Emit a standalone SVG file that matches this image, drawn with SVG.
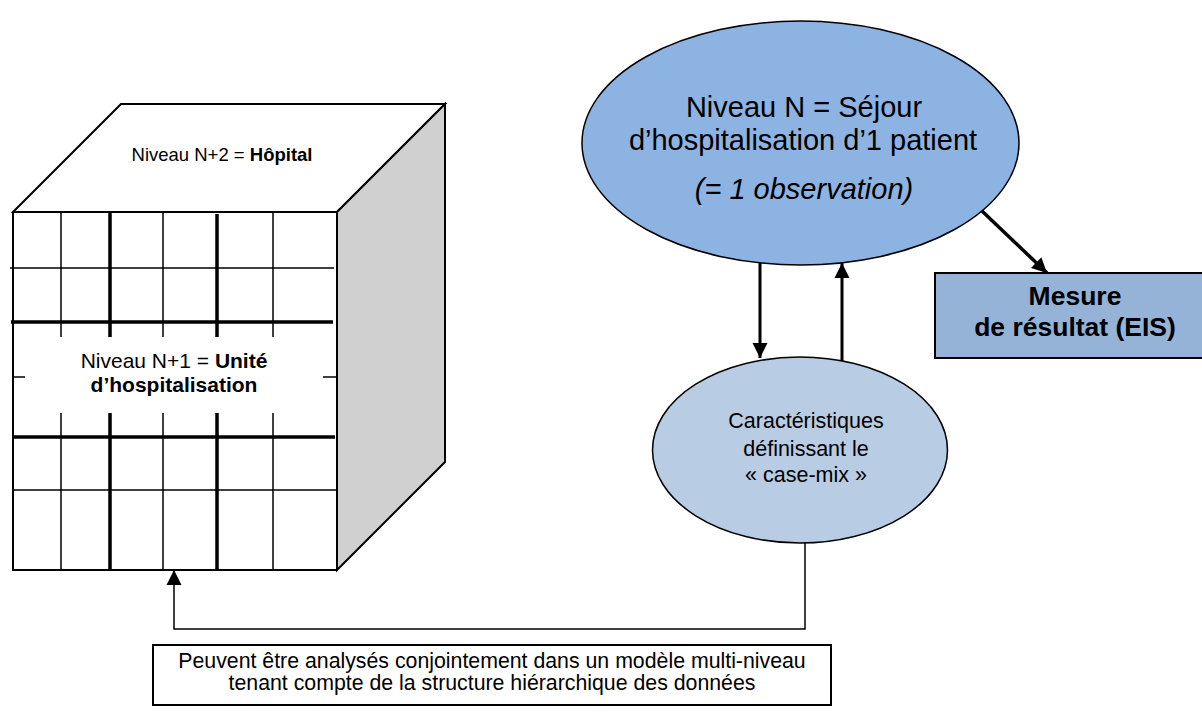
<svg xmlns="http://www.w3.org/2000/svg" width="1202" height="725" viewBox="0 0 1202 725">
<style>
.t{font-family:"Liberation Sans",Arial,sans-serif;fill:#000;text-anchor:middle}
.b{font-weight:bold}
.thin{stroke:#000;stroke-width:1.5;fill:none}
.thick{stroke:#000;stroke-width:3.5;fill:none}
.edge{stroke:#000;stroke-width:2;stroke-linejoin:miter}
.conn{stroke:#000;fill:none}
</style>
<defs>
<marker id="ah" markerUnits="userSpaceOnUse" markerWidth="16" markerHeight="16" refX="15" refY="8" orient="auto">
<path d="M0,0.5 L15,8 L0,15.5 Z" fill="#000"/>
</marker>
</defs>
<rect width="1202" height="725" fill="#fff"/>
<g id="cube">
<polygon class="edge" points="13,212 121,104 445,104 337,212" fill="#fff"/>
<polygon class="edge" points="337,212 445,104 445,462 337,570" fill="#d0d0d0"/>
<rect class="edge" x="13" y="212" width="324" height="358" fill="#fff"/>
<path class="thin" d="M10,268H334 M13,490H337 M13,377H25 M323,377H337 M61,212V337 M61,413V570 M163,212V337 M163,413V570 M273,212V337 M273,413V570"/>
<path class="thick" d="M11,322H333 M13,437H335 M110,212V337 M110,413V569 M217,214V337 M217,413V569"/>
<text class="t" x="222" y="161" font-size="18.5">Niveau N+2 = <tspan class="b">Hôpital</tspan></text>
<text class="t" x="174" y="368" font-size="21">Niveau N+1 = <tspan class="b">Unité</tspan></text>
<text class="t b" x="174" y="392" font-size="21">d’hospitalisation</text>
</g>
<g id="sejour">
<ellipse cx="800.5" cy="143" rx="218.5" ry="122" fill="#8db3e2" stroke="#000" stroke-width="1.5"/>
<text class="t" x="804" y="117" font-size="29">Niveau N = Séjour</text>
<text class="t" x="803" y="150" font-size="29">d’hospitalisation d’1 patient</text>
<text class="t" x="804" y="199" font-size="29" font-style="italic">(= 1 observation)</text>
</g>
<g id="mesure">
<rect x="935" y="273" width="280" height="85" fill="#95b3d7" stroke="#000" stroke-width="2"/>
<text class="t b" x="1075" y="305" font-size="26.5">Mesure</text>
<text class="t b" x="1075" y="336" font-size="26.5">de résultat (EIS)</text>
</g>
<g id="casemix">
<ellipse cx="800" cy="450" rx="147.5" ry="93" fill="#b8cce4" stroke="#000" stroke-width="1.5"/>
<text class="t" x="806" y="428" font-size="21.5">Caractéristiques</text>
<text class="t" x="806" y="456" font-size="21.5">définissant le</text>
<text class="t" x="806" y="482" font-size="21.5">« case-mix »</text>
</g>
<g id="note">
<rect x="153" y="645" width="678" height="60" fill="#fff" stroke="#000" stroke-width="2"/>
<text class="t" x="492" y="668" font-size="21.3">Peuvent être analysés conjointement dans un modèle multi-niveau</text>
<text class="t" x="492" y="690" font-size="21.3">tenant compte de la structure hiérarchique des données</text>
</g>
<g id="connectors">
<path class="conn" stroke-width="3" d="M760,263V358" marker-end="url(#ah)"/>
<path class="conn" stroke-width="3" d="M842,361V263" marker-end="url(#ah)"/>
<path class="conn" stroke-width="3.5" d="M982,211L1047,273" marker-end="url(#ah)"/>
<path class="conn" stroke-width="1.5" d="M805,543V629H174V570" marker-end="url(#ah)"/>
</g>
</svg>
